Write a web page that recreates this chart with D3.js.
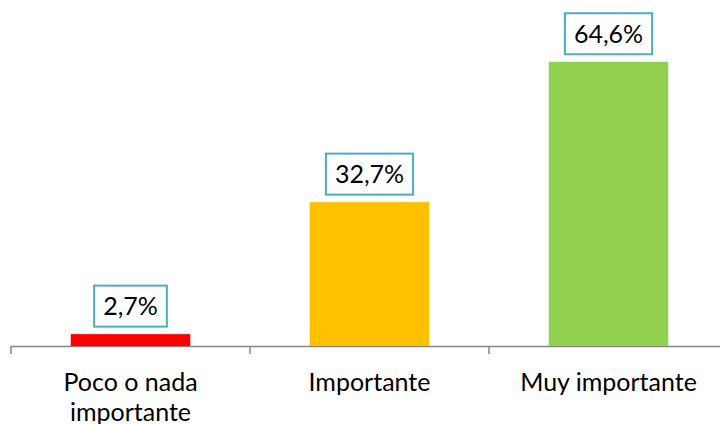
<!doctype html>
<html>
<head>
<meta charset="utf-8">
<script src="https://d3js.org/d3.v7.min.js"></script>
<style>
  body { margin: 0; background: #fff; }
  text { font-family: Lato, 'Open Sans', sans-serif; fill: #000; }
</style>
</head>
<body>
<svg width="720" height="424"></svg>
<script>
  var categories = [['Poco o nada', 'importante'], ['Importante'], ['Muy importante']];
  var values = [2.7, 32.7, 64.6];
  var colors = ['#ff0000', '#ffc000', '#92d050'];

  var svg = d3.select('svg');
  var fontSize = 25;

  var x = d3.scaleBand()
            .domain(d3.range(values.length))
            .range([11, 728])
            .paddingInner(0.5)
            .paddingOuter(0.25);
  var y = d3.scaleLinear().domain([0, 70]).range([346, 38]);

  // axis
  var axis = svg.append('g');
  axis.append('line')
    .attr('x1', 11).attr('x2', 728)
    .attr('y1', y(0) + 0.5).attr('y2', y(0) + 0.5)
    .attr('stroke', '#868686').attr('stroke-width', 1.5);
  var ticks = d3.range(values.length + 1).map(function(i) { return 11 + i * x.step(); });
  axis.selectAll('.tick')
    .data(ticks)
    .enter().append('line')
    .attr('x1', function(d) { return d; }).attr('x2', function(d) { return d; })
    .attr('y1', y(0)).attr('y2', y(0) + 8)
    .attr('stroke', '#868686').attr('stroke-width', 1.5);

  svg.selectAll('.bar')
    .data(values)
    .enter().append('rect')
    .attr('x', function(d, i) { return x(i); })
    .attr('y', function(d) { return y(d); })
    .attr('width', x.bandwidth())
    .attr('height', function(d) { return y(0) - y(d); })
    .attr('fill', function(d, i) { return colors[i]; });

  // category labels
  var cat = svg.selectAll('.cat')
    .data(categories)
    .enter().append('text')
    .attr('text-anchor', 'middle')
    .attr('font-size', fontSize)
    .attr('x', function(d, i) { return x(i) + x.bandwidth() / 2; })
    .attr('y', 391);
  cat.selectAll('tspan')
    .data(function(d) { return d; })
    .enter().append('tspan')
    .attr('x', function() { return d3.select(this.parentNode).attr('x'); })
    .attr('dy', function(d, i) { return i === 0 ? 0 : 30; })
    .text(function(d) { return d; });

  // value labels
  var fmt = function(v) { return v.toFixed(1).replace('.', ',') + '%'; };
  var lab = svg.selectAll('.lab')
    .data(values)
    .enter().append('g')
    .attr('transform', function(d, i) {
      return 'translate(' + (x(i) + x.bandwidth() / 2) + ',' + (y(d) - 28) + ')';
    });
  lab.append('rect').attr('class', 'box');
  lab.append('text')
    .attr('text-anchor', 'middle')
    .attr('dy', '0.36em')
    .attr('font-size', fontSize)
    .text(fmt);
  lab.each(function() {
    var g = d3.select(this);
    var w = g.select('text').node().getComputedTextLength() + 18;
    g.select('rect')
      .attr('x', -w / 2).attr('y', -20.5)
      .attr('width', w).attr('height', 41)
      .attr('fill', '#fff')
      .attr('stroke', '#4bacc6').attr('stroke-width', 2);
  });
</script>
</body>
</html>
